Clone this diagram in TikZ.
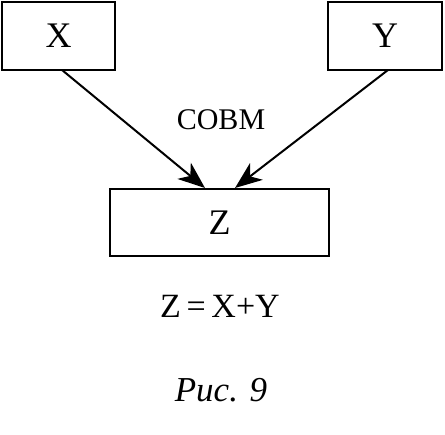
\documentclass[tikz,border=0pt]{standalone}
\usepackage{fontspec}
\setmainfont{Liberation Serif}
\usetikzlibrary{arrows.meta}
\begin{document}
\begin{tikzpicture}[x=1pt,y=-1pt,
  box/.style={draw,line width=2pt,inner sep=0pt},
  conn/.style={line width=2pt,-{Stealth[length=27pt,width=21pt,inset=8pt]}},
  lbl/.style={inner sep=0pt,anchor=center}]
\useasboundingbox (0,0) rectangle (445,435);
\node[box,minimum width=113pt,minimum height=68pt,font=\fontsize{36}{40}\selectfont] (x) at (58.5,36) {X};
\node[box,minimum width=114pt,minimum height=68pt,font=\fontsize{36}{40}\selectfont] (y) at (385,36) {Y};
\node[box,minimum width=219pt,minimum height=67pt,font=\fontsize{36}{40}\selectfont] (z) at (219.5,222.5) {Z};
\node[lbl,font=\fontsize{30}{34}\selectfont] (c) at (221,120) {СОВМ};
\node[lbl,font=\fontsize{34}{38}\selectfont] (eq) at (220,306) {Z\,=\,X+Y};
\node[lbl,font=\fontsize{35}{40}\selectfont\itshape] (cap) at (221,390) {Рис. 9};
\coordinate (xs) at (62,70);
\coordinate (ys) at (388,70);
\coordinate (zl) at (205,188);
\coordinate (zr) at (235,188);
\draw[conn] (xs) -- (zl);
\draw[conn] (ys) -- (zr);
\end{tikzpicture}
\end{document}
